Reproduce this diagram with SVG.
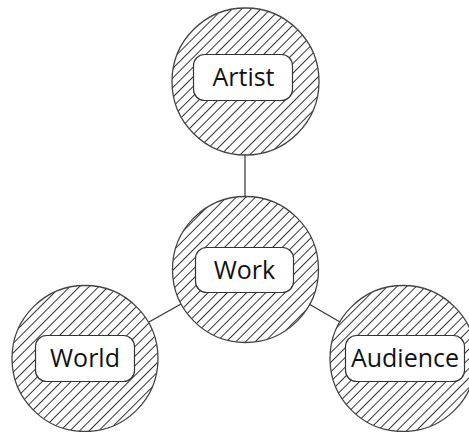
<svg xmlns="http://www.w3.org/2000/svg" width="469" height="432" viewBox="0 0 469 432">
<defs>
<pattern id="hatch" patternUnits="userSpaceOnUse" width="6.8" height="6.8" patternTransform="rotate(45)">
<line x1="0.5" y1="0" x2="0.5" y2="6.8" stroke="#222" stroke-width="0.9"/>
</pattern>
</defs>
<style>
.bg{fill:#fff}
.circ{fill:url(#hatch);stroke:#444;stroke-width:1.3}
.box{fill:#fff;stroke:#333;stroke-width:1.2}
.lbl{font-family:"Open Sans","Noto Sans","DejaVu Sans",sans-serif;font-size:25px;fill:#111;text-anchor:middle}
.conn{stroke:#333;stroke-width:1.2;fill:none}
</style>
<rect class="bg" x="0" y="0" width="469" height="432"/>
<g id="connectors">
<line class="conn" x1="245" y1="155" x2="245" y2="197"/>
<line class="conn" x1="181" y1="304" x2="149" y2="322"/>
<line class="conn" x1="309" y1="304" x2="340" y2="322"/>
</g>
<g id="artist">
<circle class="circ" cx="245.5" cy="81.5" r="73.5"/>
<rect class="box" x="193.5" y="54.5" width="99" height="46" rx="11"/>
<text class="lbl" x="243.5" y="86">Artist</text>
</g>
<g id="work">
<circle class="circ" cx="245.5" cy="269.5" r="73"/>
<rect class="box" x="195.5" y="247.5" width="98" height="45" rx="11"/>
<text class="lbl" x="244.5" y="279">Work</text>
</g>
<g id="world">
<circle class="circ" cx="85" cy="358.5" r="73"/>
<rect class="box" x="35.5" y="335.5" width="99" height="46" rx="11"/>
<text class="lbl" x="85" y="367">World</text>
</g>
<g id="audience">
<circle class="circ" cx="403" cy="358.5" r="73"/>
<rect class="box" x="345.5" y="335.5" width="119" height="46" rx="11"/>
<text class="lbl" x="405" y="367">Audience</text>
</g>
</svg>
